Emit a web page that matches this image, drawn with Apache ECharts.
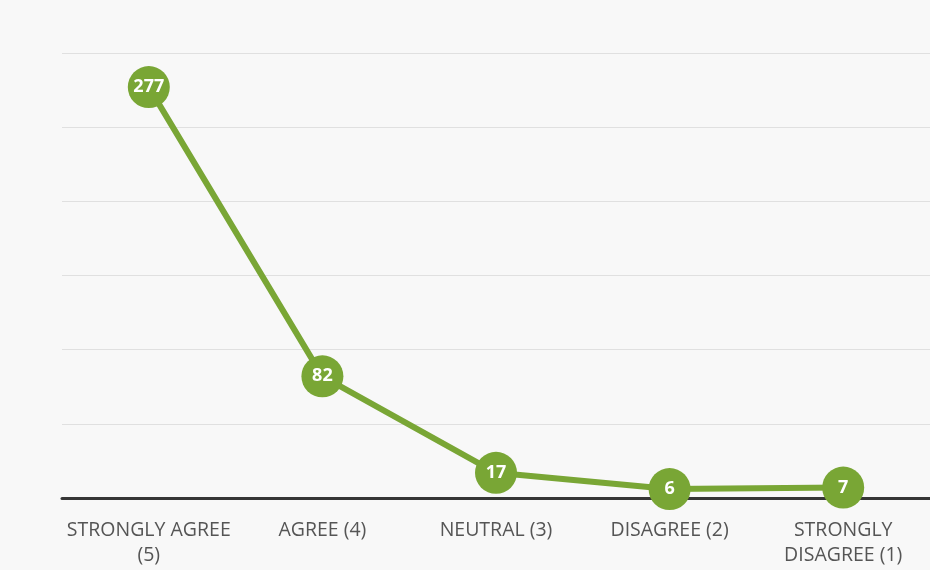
<!DOCTYPE html>
<html>
<head>
    <meta charset="utf-8">
    <title>Responses</title>
    <script src="https://cdn.jsdelivr.net/npm/echarts@6/dist/echarts.min.js"></script>
    <style>
        html, body { margin: 0; padding: 0; background: #f8f8f8; }
        #chart { width: 930px; height: 570px; }
    </style>
</head>
<body>
    <div id="chart"></div>
    <script type="text/javascript">
        // categories and counts
        var categories = ['STRONGLY AGREE\n(5)', 'AGREE (4)', 'NEUTRAL (3)', 'DISAGREE (2)', 'STRONGLY\nDISAGREE (1)'];
        var counts = [277, 82, 17, 6, 7];

        var myChart = echarts.init(document.getElementById('chart'));

        var option = {
            backgroundColor: '#f8f8f8',
            grid: {
                left: 62,
                right: 0,
                top: 53,
                bottom: 72
            },
            xAxis: {
                type: 'category',
                data: categories,
                boundaryGap: true,
                axisLine: { lineStyle: { color: '#363636', width: 3 } },
                axisTick: { show: false },
                axisLabel: {
                    color: '#555',
                    fontFamily: 'Open Sans',
                    fontSize: 19.5,
                    lineHeight: 25,
                    margin: 20,
                    interval: 0
                }
            },
            yAxis: {
                type: 'value',
                min: 0,
                max: 300,
                interval: 50,
                axisLine: { show: false },
                axisTick: { show: false },
                axisLabel: { show: false },
                splitLine: { lineStyle: { color: '#e0e0e0', width: 1 } }
            },
            series: [{
                type: 'line',
                data: counts,
                symbol: 'circle',
                symbolSize: 42,
                lineStyle: { color: '#79a635', width: 6 },
                itemStyle: { color: '#79a635' },
                label: {
                    show: true,
                    position: 'inside',
                    color: '#fff',
                    fontFamily: 'Open Sans',
                    fontWeight: 'bold',
                    fontSize: 18
                },
                z: 3
            }]
        };

        myChart.setOption(option);
    </script>
</body>
</html>
